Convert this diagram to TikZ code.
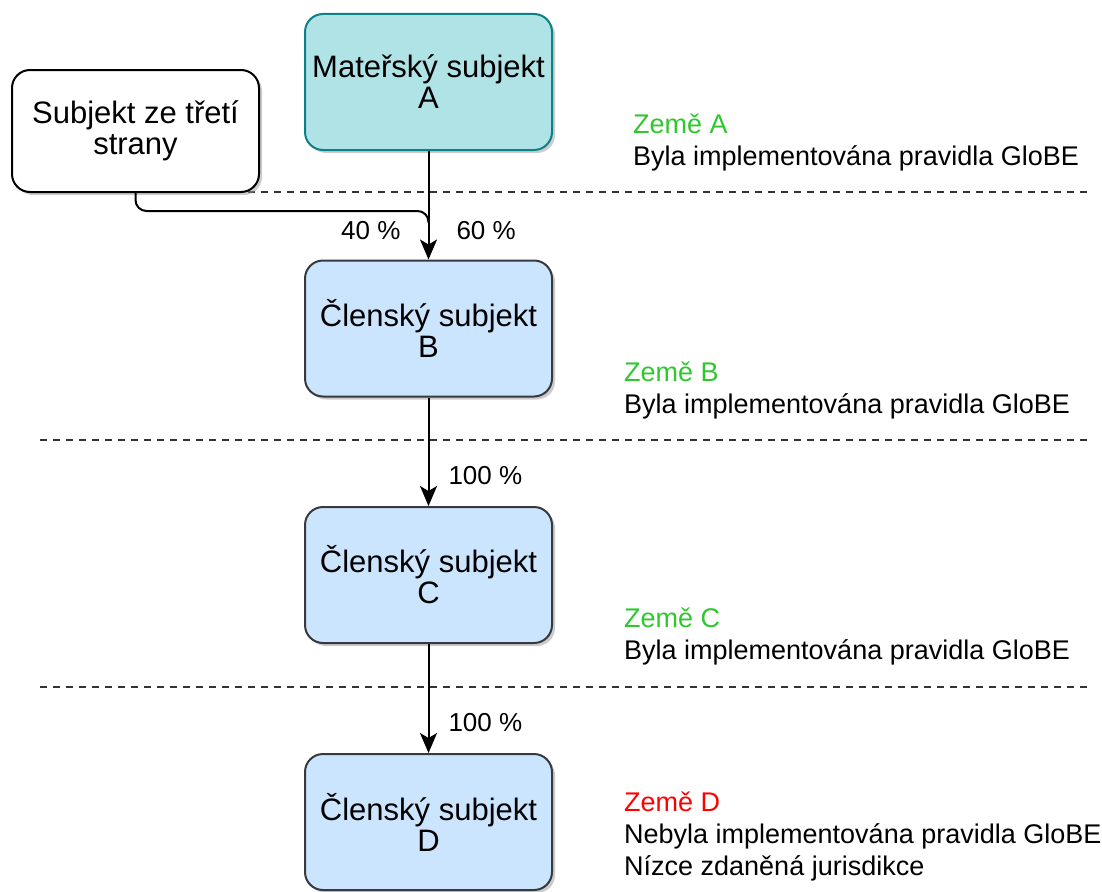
\documentclass[tikz,border=0pt]{standalone}
\usepackage{fontspec}
\setmainfont{Liberation Sans}
\usetikzlibrary{arrows.meta,shadows}
\definecolor{tealfill}{HTML}{B0E3E6}
\definecolor{tealline}{HTML}{0E8088}
\definecolor{bluefill}{HTML}{CCE5FF}
\definecolor{greyline}{HTML}{36393D}
\definecolor{zemegreen}{HTML}{2EC82E}
\definecolor{zemered}{HTML}{FF0000}
\begin{document}
\begin{tikzpicture}[x=1pt,y=-1pt,
    entity/.style={draw, line width=2pt, rounded corners=18pt,
      minimum width=247pt, minimum height=136pt, align=center,
      font=\fontsize{31}{31}\selectfont,
      drop shadow={shadow xshift=3pt, shadow yshift=-3pt, fill=black!40}},
    parent/.style={entity, fill=tealfill, draw=tealline},
    member/.style={entity, fill=bluefill, draw=greyline},
    outside/.style={entity, fill=white, draw=black, minimum height=122pt},
    conn/.style={line width=2pt, -{Stealth[length=20pt, width=17pt, inset=5pt]}},
    share/.style={font=\fontsize{26}{26}\selectfont, inner sep=0pt},
    country/.style={anchor=west, align=left, inner sep=0pt,
      font=\fontsize{27}{32}\selectfont},
    border/.style={dashed, dash pattern=on 7pt off 6pt, line width=1.5pt, black!80}]
  \useasboundingbox (0,0) rectangle (1102,891);
  % Country borders
  \draw[border] (40,192) -- (1087,192);
  \draw[border] (40,440) -- (1087,440);
  \draw[border] (40,687) -- (1087,687);
  % Entities
  \node[parent] (a) at (428.5,82) {Mateřský subjekt\\A};
  \node[outside] (tp) at (135.5,131) {Subjekt ze třetí\\strany};
  \node[member] (b) at (428.5,328.5) {Členský subjekt\\B};
  \node[member] (c) at (428.5,575) {Členský subjekt\\C};
  \node[member] (d) at (428.5,822) {Členský subjekt\\D};
  % Ownership
  \coordinate (bend) at (428.5,211);
  \draw[conn] (a) -- (b) node[share, pos=0.73, anchor=west, xshift=27pt] {60 \%};
  \draw[line width=2pt, rounded corners=11pt] (tp.south) |- (bend) -- ([yshift=-12pt]bend)
    node[share, pos=1, anchor=east, xshift=-27pt, yshift=-8pt] {40 \%};
  \draw[conn] (b) -- (c) node[share, pos=0.72, anchor=west, xshift=19pt] {100 \%};
  \draw[conn] (c) -- (d) node[share, pos=0.72, anchor=west, xshift=19pt] {100 \%};
  % Countries
  \node[country] (za) at (633,142) {\textcolor{zemegreen}{Země A}\\Byla implementována pravidla GloBE};
  \node[country] (zb) at (624,390) {\textcolor{zemegreen}{Země B}\\Byla implementována pravidla GloBE};
  \node[country] (zc) at (624,636) {\textcolor{zemegreen}{Země C}\\Byla implementována pravidla GloBE};
  \node[country] (zd) at (624,836) {\textcolor{zemered}{Země D}\\Nebyla implementována pravidla GloBE\\Nízce zdaněná jurisdikce};
\end{tikzpicture}
\end{document}
